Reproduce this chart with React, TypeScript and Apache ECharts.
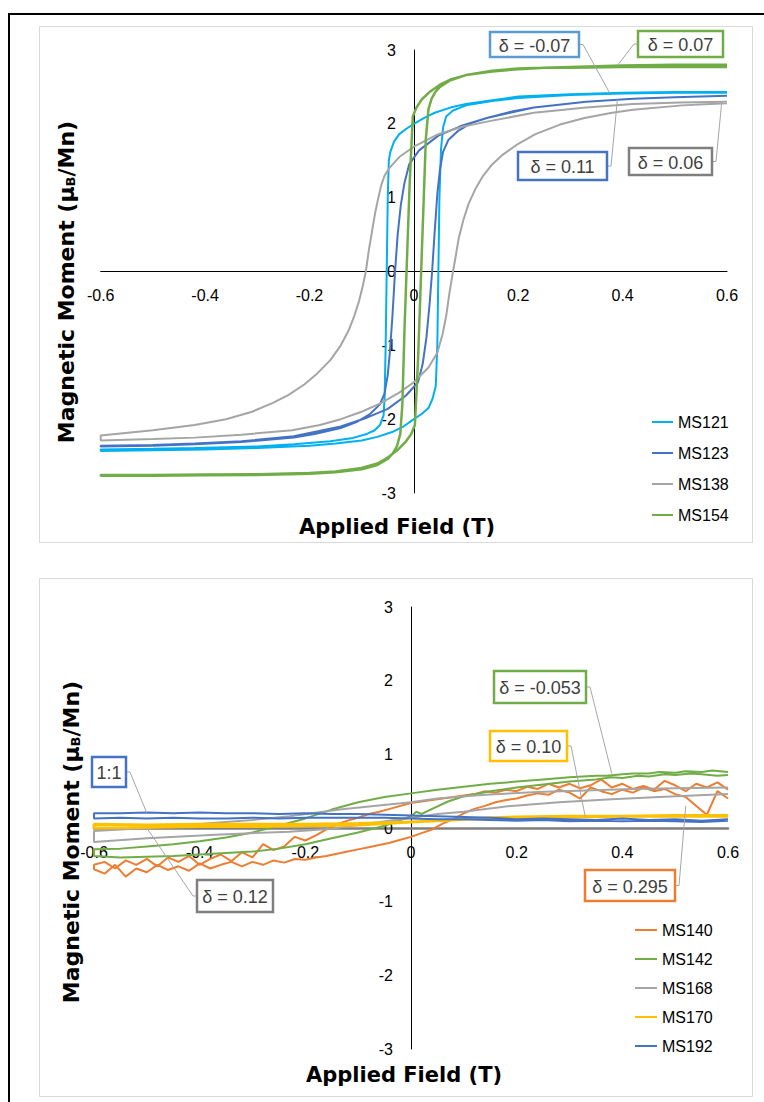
import React, { useEffect, useRef } from 'react';
import * as echarts from 'echarts';

type Pt = [number, number];

// ---------- upper panel: square hysteresis loops ----------
const topNames = ['MS121', 'MS123', 'MS138', 'MS154'];
const topColors = ['#00B0F0', '#4472C4', '#A5A5A5', '#70AD47'];

const ms121Down: Pt[] = [[0.6,2.43],[0.5,2.43],[0.4,2.42],[0.3,2.4],[0.2,2.37],[0.14,2.31],[0.1,2.27],[0.07,2.22],[0.04,2.15],[0.02,2.08],[0,2.0],[-0.015,1.93],[-0.028,1.86],[-0.038,1.76],[-0.045,1.62],[-0.048,1.5],[-0.05,1.0],[-0.052,0],[-0.054,-1.0],[-0.056,-1.7],[-0.058,-1.95],[-0.065,-2.08],[-0.075,-2.15],[-0.09,-2.2],[-0.12,-2.26],[-0.16,-2.3],[-0.23,-2.34],[-0.3,-2.37],[-0.42,-2.39],[-0.5,-2.4],[-0.6,-2.41]];
const ms121Up: Pt[] = [[-0.6,-2.43],[-0.5,-2.42],[-0.4,-2.41],[-0.3,-2.39],[-0.2,-2.36],[-0.15,-2.33],[-0.1,-2.29],[-0.07,-2.24],[-0.04,-2.17],[-0.02,-2.1],[0,-2.0],[0.015,-1.93],[0.028,-1.85],[0.036,-1.72],[0.042,-1.55],[0.045,-1.0],[0.047,0],[0.049,1.0],[0.052,1.65],[0.056,1.95],[0.062,2.1],[0.075,2.18],[0.1,2.25],[0.15,2.31],[0.2,2.35],[0.3,2.39],[0.4,2.41],[0.5,2.42],[0.6,2.42]];

const ms123Down: Pt[] = [[0.6,2.38],[0.5,2.36],[0.42,2.34],[0.33,2.3],[0.23,2.22],[0.14,2.08],[0.09,1.97],[0.047,1.84],[0.01,1.64],[-0.009,1.45],[-0.018,1.2],[-0.025,0.9],[-0.031,0.5],[-0.036,0],[-0.041,-0.6],[-0.046,-1.1],[-0.05,-1.4],[-0.056,-1.65],[-0.065,-1.8],[-0.084,-1.93],[-0.11,-2.04],[-0.14,-2.12],[-0.19,-2.2],[-0.23,-2.25],[-0.33,-2.31],[-0.42,-2.34],[-0.5,-2.36],[-0.6,-2.37]];
const ms123Up: Pt[] = [[-0.6,-2.36],[-0.5,-2.35],[-0.42,-2.33],[-0.33,-2.3],[-0.23,-2.23],[-0.14,-2.1],[-0.09,-1.98],[-0.05,-1.86],[-0.015,-1.68],[0.008,-1.5],[0.017,-1.25],[0.024,-0.9],[0.03,-0.45],[0.035,0],[0.04,0.55],[0.045,1.05],[0.05,1.38],[0.056,1.62],[0.066,1.78],[0.084,1.9],[0.11,2.01],[0.14,2.08],[0.19,2.17],[0.23,2.22],[0.33,2.3],[0.42,2.34],[0.5,2.36],[0.6,2.38]];

const ms138Down: Pt[] = [[0.6,2.3],[0.51,2.29],[0.42,2.27],[0.33,2.22],[0.23,2.15],[0.14,2.03],[0.093,1.96],[0.047,1.86],[0,1.69],[-0.028,1.55],[-0.047,1.4],[-0.056,1.3],[-0.062,1.18],[-0.068,1.0],[-0.074,0.8],[-0.08,0.55],[-0.086,0.3],[-0.092,0],[-0.098,-0.2],[-0.105,-0.4],[-0.114,-0.6],[-0.125,-0.8],[-0.14,-1.0],[-0.16,-1.2],[-0.185,-1.38],[-0.21,-1.53],[-0.24,-1.67],[-0.27,-1.78],[-0.31,-1.9],[-0.36,-2.0],[-0.42,-2.08],[-0.5,-2.15],[-0.6,-2.22]];
const ms138Up: Pt[] = [[-0.6,-2.29],[-0.5,-2.27],[-0.42,-2.25],[-0.33,-2.21],[-0.233,-2.15],[-0.18,-2.08],[-0.14,-2.0],[-0.1,-1.9],[-0.065,-1.79],[-0.028,-1.64],[0,-1.5],[0.028,-1.3],[0.045,-1.1],[0.055,-0.85],[0.062,-0.6],[0.068,-0.3],[0.075,0],[0.08,0.2],[0.086,0.45],[0.095,0.7],[0.105,0.92],[0.118,1.12],[0.133,1.3],[0.15,1.45],[0.17,1.58],[0.2,1.73],[0.233,1.86],[0.28,1.99],[0.327,2.08],[0.38,2.15],[0.42,2.19],[0.514,2.25],[0.6,2.28]];

const ms154Down: Pt[] = [[0.6,2.77],[0.5,2.77],[0.4,2.77],[0.3,2.76],[0.25,2.76],[0.2,2.74],[0.15,2.71],[0.1,2.66],[0.07,2.6],[0.05,2.53],[0.03,2.43],[0.015,2.33],[0.005,2.22],[-0.002,2.1],[-0.008,1.2],[-0.013,0.2],[-0.018,-0.8],[-0.022,-1.8],[-0.026,-2.2],[-0.032,-2.36],[-0.04,-2.46],[-0.05,-2.54],[-0.07,-2.62],[-0.1,-2.68],[-0.15,-2.72],[-0.2,-2.74],[-0.3,-2.755],[-0.4,-2.76],[-0.5,-2.765],[-0.6,-2.765]];
const ms154Up: Pt[] = [[-0.6,-2.755],[-0.5,-2.755],[-0.4,-2.75],[-0.3,-2.745],[-0.2,-2.73],[-0.15,-2.71],[-0.1,-2.66],[-0.07,-2.6],[-0.05,-2.52],[-0.03,-2.41],[-0.015,-2.3],[-0.005,-2.2],[0.002,-2.08],[0.008,-1.2],[0.013,-0.2],[0.018,0.8],[0.023,1.8],[0.028,2.2],[0.034,2.34],[0.042,2.44],[0.05,2.5],[0.07,2.59],[0.1,2.66],[0.15,2.72],[0.2,2.75],[0.3,2.77],[0.4,2.79],[0.5,2.8],[0.6,2.8]];

const topLoops: Pt[][] = [
  [...ms121Down, ...ms121Up],
  [...ms123Down, ...ms123Up],
  [...ms138Down, ...ms138Up],
  [...ms154Down, ...ms154Up],
];

// ---------- lower panel: weak loops ----------
const bottomNames = ['MS140', 'MS142', 'MS168', 'MS170', 'MS192'];
const bottomColors = ['#ED7D31', '#70AD47', '#A5A5A5', '#FFC000', '#4472C4'];

const ms140Down: Pt[] = [[0.6,0.52],[0.58,0.62],[0.56,0.55],[0.54,0.6],[0.52,0.5],[0.5,0.58],[0.48,0.64],[0.46,0.52],[0.44,0.57],[0.42,0.53],[0.4,0.6],[0.38,0.55],[0.36,0.66],[0.34,0.58],[0.32,0.54],[0.3,0.6],[0.28,0.55],[0.26,0.6],[0.24,0.53],[0.22,0.56],[0.2,0.5],[0.18,0.52],[0.16,0.48],[0.14,0.5],[0.12,0.46],[0.1,0.44],[0.08,0.42],[0.06,0.4],[0.04,0.38],[0.02,0.36],[0,0.34],[-0.02,0.3],[-0.04,0.26],[-0.06,0.22],[-0.08,0.19],[-0.1,0.14],[-0.12,0.1],[-0.14,0.05],[-0.16,-0.02],[-0.18,-0.1],[-0.2,-0.17],[-0.22,-0.12],[-0.24,-0.25],[-0.26,-0.3],[-0.28,-0.22],[-0.3,-0.4],[-0.32,-0.33],[-0.34,-0.45],[-0.36,-0.36],[-0.38,-0.42],[-0.4,-0.5],[-0.42,-0.38],[-0.44,-0.46],[-0.46,-0.4],[-0.48,-0.52],[-0.5,-0.42],[-0.52,-0.5],[-0.54,-0.44],[-0.56,-0.55],[-0.58,-0.46],[-0.6,-0.5]];
const ms140Up: Pt[] = [[-0.6,-0.56],[-0.58,-0.62],[-0.56,-0.5],[-0.54,-0.66],[-0.52,-0.55],[-0.5,-0.6],[-0.48,-0.5],[-0.46,-0.57],[-0.44,-0.52],[-0.42,-0.58],[-0.4,-0.48],[-0.38,-0.55],[-0.36,-0.5],[-0.34,-0.46],[-0.32,-0.52],[-0.3,-0.46],[-0.28,-0.5],[-0.26,-0.44],[-0.24,-0.47],[-0.22,-0.42],[-0.2,-0.43],[-0.18,-0.4],[-0.16,-0.38],[-0.14,-0.35],[-0.12,-0.32],[-0.1,-0.29],[-0.08,-0.26],[-0.06,-0.23],[-0.04,-0.2],[-0.02,-0.16],[0,-0.12],[0.02,-0.07],[0.04,-0.02],[0.06,0.06],[0.08,0.12],[0.1,0.2],[0.12,0.26],[0.14,0.3],[0.16,0.35],[0.18,0.38],[0.2,0.4],[0.22,0.44],[0.24,0.47],[0.26,0.45],[0.28,0.52],[0.3,0.48],[0.32,0.4],[0.34,0.55],[0.36,0.5],[0.38,0.46],[0.4,0.52],[0.42,0.48],[0.44,0.55],[0.46,0.5],[0.48,0.53],[0.5,0.46],[0.52,0.42],[0.54,0.3],[0.56,0.18],[0.58,0.5],[0.6,0.4]];

const ms142Down: Pt[] = [[0.6,0.76],[0.57,0.78],[0.55,0.76],[0.52,0.77],[0.5,0.75],[0.47,0.76],[0.45,0.74],[0.42,0.74],[0.4,0.73],[0.37,0.71],[0.35,0.71],[0.3,0.69],[0.25,0.66],[0.2,0.63],[0.15,0.6],[0.1,0.56],[0.05,0.52],[0,0.47],[-0.05,0.42],[-0.1,0.35],[-0.15,0.25],[-0.2,0.13],[-0.25,0.03],[-0.3,-0.06],[-0.35,-0.13],[-0.4,-0.18],[-0.45,-0.22],[-0.5,-0.25],[-0.55,-0.28],[-0.6,-0.29]];
const ms142Up: Pt[] = [[-0.6,-0.38],[-0.55,-0.4],[-0.5,-0.39],[-0.45,-0.38],[-0.4,-0.36],[-0.35,-0.34],[-0.3,-0.32],[-0.25,-0.28],[-0.2,-0.22],[-0.15,-0.14],[-0.1,-0.06],[-0.05,0.03],[0,0.16],[0.01,0.22],[0.02,0.19],[0.04,0.26],[0.07,0.36],[0.1,0.43],[0.15,0.5],[0.2,0.55],[0.25,0.59],[0.3,0.63],[0.35,0.66],[0.38,0.69],[0.4,0.68],[0.43,0.71],[0.45,0.7],[0.48,0.73],[0.5,0.72],[0.53,0.74],[0.55,0.73],[0.58,0.71],[0.6,0.72]];

const ms168Down: Pt[] = [[0.6,0.55],[0.5,0.54],[0.42,0.53],[0.33,0.51],[0.24,0.49],[0.14,0.45],[0.05,0.4],[0,0.35],[-0.07,0.3],[-0.135,0.25],[-0.23,0.16],[-0.3,0.11],[-0.37,0.07],[-0.44,0.03],[-0.5,0.0],[-0.6,-0.04]];
const ms168Up: Pt[] = [[-0.6,-0.19],[-0.5,-0.14],[-0.37,-0.09],[-0.23,-0.05],[-0.15,-0.01],[-0.09,0.05],[0,0.14],[0.05,0.19],[0.1,0.22],[0.19,0.3],[0.28,0.35],[0.38,0.39],[0.47,0.42],[0.6,0.46]];

const ms170Down: Pt[] = [[0.6,0.17],[0.5,0.17],[0.4,0.16],[0.3,0.16],[0.2,0.15],[0.15,0.14],[0.1,0.12],[0.05,0.1],[0,0.08],[-0.05,0.07],[-0.1,0.06],[-0.2,0.05],[-0.3,0.05],[-0.4,0.05],[-0.5,0.04],[-0.6,0.05]];
const ms170Up: Pt[] = [[-0.6,0.0],[-0.5,0.01],[-0.4,0.02],[-0.3,0.02],[-0.2,0.03],[-0.1,0.04],[-0.05,0.06],[0,0.08],[0.05,0.1],[0.1,0.12],[0.2,0.14],[0.3,0.15],[0.4,0.16],[0.5,0.16],[0.6,0.16]];

const ms192Down: Pt[] = [[0.6,0.12],[0.55,0.1],[0.5,0.12],[0.45,0.11],[0.4,0.13],[0.35,0.11],[0.3,0.12],[0.25,0.13],[0.2,0.12],[0.15,0.14],[0.1,0.15],[0.05,0.16],[0,0.17],[-0.05,0.18],[-0.1,0.19],[-0.15,0.19],[-0.2,0.2],[-0.25,0.19],[-0.3,0.2],[-0.35,0.2],[-0.4,0.21],[-0.45,0.2],[-0.5,0.21],[-0.55,0.2],[-0.6,0.2]];
const ms192Up: Pt[] = [[-0.6,0.13],[-0.55,0.14],[-0.5,0.13],[-0.45,0.14],[-0.4,0.13],[-0.35,0.13],[-0.3,0.14],[-0.25,0.13],[-0.2,0.14],[-0.15,0.14],[-0.1,0.14],[-0.05,0.14],[0,0.13],[0.05,0.12],[0.1,0.12],[0.15,0.11],[0.2,0.1],[0.25,0.11],[0.3,0.09],[0.35,0.1],[0.4,0.09],[0.45,0.1],[0.5,0.09],[0.55,0.08],[0.6,0.1]];

const bottomLoops: Pt[][] = [
  [...ms140Down, ...ms140Up],
  [...ms142Down, ...ms142Up],
  [...ms168Down, ...ms168Up],
  [...ms170Down, ...ms170Up],
  [...ms192Down, ...ms192Up],
];

// axis ranges and ticks
const fieldMin = -0.6;
const fieldMax = 0.6;
const fieldStep = 0.2;
const momentMin = -3;
const momentMax = 3;
const momentStep = 1;

// callouts: text, grid, and the data point each leader points at
const calloutTexts = ['δ = -0.07', 'δ = 0.07', 'δ = 0.11', 'δ = 0.06', '1:1', 'δ = 0.12', 'δ = -0.053', 'δ = 0.10', 'δ = 0.295'];
const calloutTargets: Pt[] = [[0.375, 2.42], [0.39, 2.79], [0.39, 2.33], [0.59, 2.3], [-0.5, 0.2], [-0.5, 0.0], [0.38, 0.74], [0.33, 0.15], [0.52, 0.3]];
const calloutGrid = [0, 0, 0, 0, 1, 1, 1, 1, 1];

// callout box layout: [x, y, w, h], leader side, edge colour
const calloutLayout: { box: number[]; side: 'left' | 'right'; color: string }[] = [
  { box: [490, 32, 89, 25], side: 'right', color: '#5B9BD5' },
  { box: [638, 31, 85, 26], side: 'left', color: '#70AD47' },
  { box: [518, 152, 89, 28], side: 'right', color: '#4472C4' },
  { box: [629, 148, 83, 27], side: 'right', color: '#7F7F7F' },
  { box: [92, 757, 34, 30], side: 'right', color: '#4472C4' },
  { box: [197, 880, 76, 32], side: 'left', color: '#7F7F7F' },
  { box: [494, 671, 92, 32], side: 'right', color: '#70AD47' },
  { box: [490, 731, 77, 30], side: 'right', color: '#FFC000' },
  { box: [585, 870, 90, 31], side: 'right', color: '#ED7D31' },
];

// plot areas
const grids = [
  { left: 100.7, top: 50, width: 626.3, height: 443 },
  { left: 94, top: 607, width: 634, height: 442 },
];

const tickFont = '"Liberation Sans", Arial, sans-serif';
const fmtField = (v: number) => String(Math.round(v * 10) / 10);
const fmtMoment = (v: number) => String(Math.round(v));

// both ranges are symmetric, so the zero lines sit at the middle of each plot;
// the axes are shifted there so that line and labels move together
function xAxisFor(gridIndex: number, lineColor: string, lineWidth: number) {
  return {
    type: 'value', gridIndex, min: fieldMin, max: fieldMax, interval: fieldStep,
    position: 'bottom', offset: -grids[gridIndex].height / 2,
    axisLine: { show: true, onZero: false, lineStyle: { color: lineColor, width: lineWidth } },
    axisTick: { show: false },
    splitLine: { show: false },
    axisLabel: { fontSize: 16, color: '#000', fontFamily: tickFont, margin: 16, formatter: fmtField },
  };
}

function yAxisFor(gridIndex: number) {
  return {
    type: 'value', gridIndex, min: momentMin, max: momentMax, interval: momentStep,
    position: 'left', offset: -grids[gridIndex].width / 2,
    axisLine: { show: true, onZero: false, lineStyle: { color: '#000', width: 1 } },
    axisTick: { show: false },
    splitLine: { show: false },
    axisLabel: { fontSize: 16, color: '#000', fontFamily: tickFont, margin: 18, formatter: fmtMoment },
  };
}

function yTitle(x: number, y: number) {
  return {
    type: 'text', x, y, rotation: Math.PI / 2, z: 50,
    style: {
      text: '{m|Magnetic Moment (μ}{s|B}{m|/Mn)}',
      align: 'center', verticalAlign: 'middle',
      rich: {
        m: { fontSize: 22, fontWeight: 'bold', fontFamily: '"DejaVu Sans", sans-serif', fill: '#000' },
        s: { fontSize: 13, fontWeight: 'bold', fontFamily: '"DejaVu Sans", sans-serif', fill: '#000', verticalAlign: 'bottom' },
      },
    },
  };
}

function xTitle(x: number, y: number) {
  return {
    type: 'text', x, y, z: 50,
    style: {
      text: 'Applied Field (T)', align: 'center', verticalAlign: 'middle',
      fontSize: 21, fontWeight: 'bold', fontFamily: '"DejaVu Sans", sans-serif', fill: '#000',
    },
  };
}

export default function App() {
  const ref = useRef<HTMLDivElement>(null);

  useEffect(() => {
    const chart = echarts.init(ref.current!, null, { renderer: 'svg' });

    const series: any[] = [];
    topLoops.forEach((data, i) => {
      series.push({
        name: topNames[i], type: 'line', xAxisIndex: 0, yAxisIndex: 0, data,
        showSymbol: false, symbol: 'none', smooth: false, color: topColors[i],
        lineStyle: { width: i === 3 ? 2.5 : 2, color: topColors[i] },
      });
    });
    bottomLoops.forEach((data, i) => {
      series.push({
        name: bottomNames[i], type: 'line', xAxisIndex: 1, yAxisIndex: 1, data,
        showSymbol: false, symbol: 'none', smooth: false, color: bottomColors[i],
        lineStyle: { width: i === 3 ? 3 : 2, color: bottomColors[i] },
      });
    });

    const legendText = { fontSize: 16, color: '#000', fontFamily: tickFont };

    chart.setOption({
      animation: false,
      backgroundColor: '#fff',
      grid: grids,
      xAxis: [xAxisFor(0, '#000', 1), xAxisFor(1, '#7F7F7F', 2.5)],
      yAxis: [yAxisFor(0), yAxisFor(1)],
      legend: [
        { data: topNames, orient: 'vertical', left: 652, top: 414, itemWidth: 21, itemHeight: 2, itemGap: 15, icon: 'rect', textStyle: legendText, selectedMode: false, padding: 0 },
        { data: bottomNames, orient: 'vertical', left: 635, top: 922, itemWidth: 22, itemHeight: 2, itemGap: 13, icon: 'rect', textStyle: legendText, selectedMode: false, padding: 0 },
      ],
      series,
    });

    const graphic: any[] = [
      // page frame and the two panel borders
      { type: 'rect', z: 0, shape: { x: 9, y: 14, width: 900, height: 1200 }, style: { fill: 'none', stroke: '#000', lineWidth: 2 } },
      { type: 'rect', z: 0, shape: { x: 39.5, y: 26.5, width: 713, height: 516 }, style: { fill: 'none', stroke: '#D9D9D9', lineWidth: 1 } },
      { type: 'rect', z: 0, shape: { x: 39.5, y: 578.5, width: 713, height: 518 }, style: { fill: 'none', stroke: '#D9D9D9', lineWidth: 1 } },
      yTitle(66, 282),
      yTitle(71, 842),
      xTitle(397, 527),
      xTitle(404, 1075),
    ];

    calloutTexts.forEach((text, i) => {
      const { box, side, color } = calloutLayout[i];
      const [bx, by, bw, bh] = box;
      const p = chart.convertToPixel({ gridIndex: calloutGrid[i] }, calloutTargets[i]) as number[];
      const sx = side === 'right' ? bx + bw : bx;
      const sy = by + bh / 2;
      const stub = side === 'right' ? sx + 4 : sx - 4;
      graphic.push({
        type: 'polyline', z: 60,
        shape: { points: [[sx, sy], [stub, sy], [p[0], p[1]]] },
        style: { stroke: '#A6A6A6', lineWidth: 1, fill: 'none' },
      });
      graphic.push({
        type: 'rect', z: 61,
        shape: { x: bx, y: by, width: bw, height: bh },
        style: { fill: '#fff', stroke: color, lineWidth: 2.5 },
      });
      graphic.push({
        type: 'text', z: 62, x: bx + bw / 2, y: by + bh / 2 + 1,
        style: { text, align: 'center', verticalAlign: 'middle', fontSize: 18, fontFamily: tickFont, fill: '#404040' },
      });
    });

    chart.setOption({ graphic });

    return () => chart.dispose();
  }, []);

  return (
    <div
      ref={ref}
      style={{ position: 'absolute', left: 0, top: 0, width: 764, height: 1102, background: '#fff' }}
    />
  );
}
